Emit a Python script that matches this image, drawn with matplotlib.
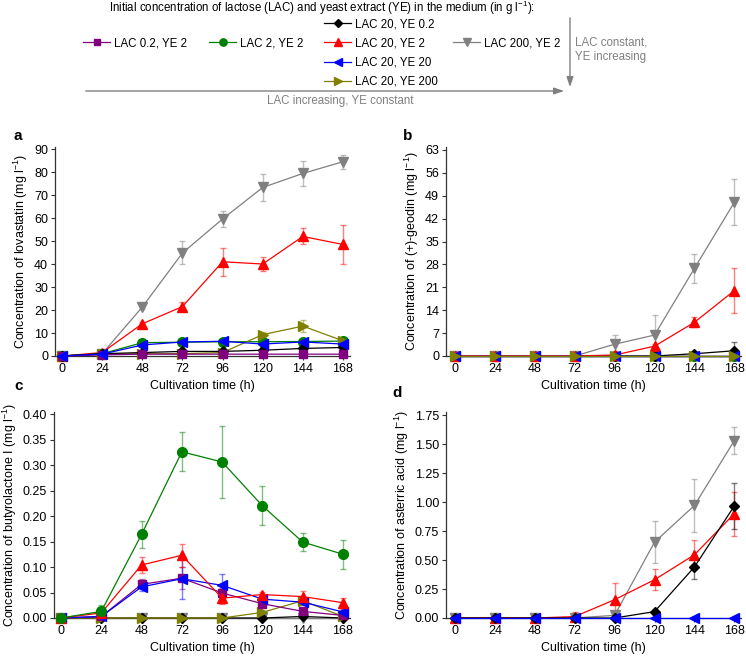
import matplotlib
matplotlib.use("Agg")
from matplotlib import pyplot as plt

plt.rcParams.update({
    "font.family": ["Liberation Sans", "DejaVu Sans"],
    "mathtext.fontset": "custom",
    "mathtext.rm": "Liberation Sans",
    "mathtext.it": "Liberation Sans:italic",
    "font.size": 9,
})

# %% data
hours = [0, 24, 48, 72, 96, 120, 144, 168]

series = ['LAC 0.2, YE 2', 'LAC 2, YE 2', 'LAC 20, YE 0.2', 'LAC 20, YE 2',
          'LAC 20, YE 20', 'LAC 20, YE 200', 'LAC 200, YE 2']
colors = ['#800080', '#008000', '#000000', '#ff0000', '#0000ff', '#808000', '#808080']
markers = ['s', 'o', 'D', '^', '<', '>', 'v']
msizes = [6, 7, 5.5, 7.5, 7.5, 7.5, 7.5]

# lovastatin (mg/l)
lova_mean = {
    'LAC 0.2, YE 2': [0, 0.5, 0.8, 0.8, 0.8, 0.8, 0.8, 0.8],
    'LAC 2, YE 2': [0, 1.0, 5.8, 6.0, 6.2, 6.2, 6.3, 6.5],
    'LAC 20, YE 0.2': [0, 1.0, 1.5, 2.0, 2.0, 2.5, 3.3, 3.7],
    'LAC 20, YE 2': [0, 1.5, 14.0, 21.5, 41.0, 40.0, 52.0, 48.5],
    'LAC 20, YE 20': [0, 0.8, 4.8, 6.1, 6.4, 5.2, 6.1, 5.2],
    'LAC 20, YE 200': [0, 0.8, 1.0, 1.0, 1.5, 9.3, 13.0, 6.6],
    'LAC 200, YE 2': [0, 1.0, 21.3, 44.8, 59.6, 73.3, 79.4, 84.5],
}
lova_err = {
    'LAC 0.2, YE 2': [0, 0.2, 0.2, 0.2, 0.2, 0.2, 0.2, 0.2],
    'LAC 2, YE 2': [0, 0.3, 0.5, 0.5, 0.5, 0.5, 0.6, 0.6],
    'LAC 20, YE 0.2': [0, 0.2, 0.3, 0.3, 0.3, 0.3, 0.4, 0.4],
    'LAC 20, YE 2': [0, 1.0, 1.0, 2.0, 6.0, 3.0, 3.5, 8.5],
    'LAC 20, YE 20': [0, 0.3, 0.6, 0.8, 1.2, 0.8, 0.8, 0.6],
    'LAC 20, YE 200': [0, 0.2, 0.2, 0.2, 0.3, 1.0, 2.5, 0.8],
    'LAC 200, YE 2': [0, 0.3, 1.0, 5.0, 3.5, 6.0, 5.5, 3.0],
}

# (+)-geodin (mg/l)
geodin_mean = {
    'LAC 0.2, YE 2': [0, 0, 0, 0, 0, 0, 0, 0],
    'LAC 2, YE 2': [0, 0, 0, 0, 0, 0, 0, 0],
    'LAC 20, YE 0.2': [0, 0, 0, 0, 0, 0, 0.7, 1.6],
    'LAC 20, YE 2': [0, 0, 0, 0, 0.3, 3.0, 10.3, 20.0],
    'LAC 20, YE 20': [0, 0, 0, 0, 0, 0, 0, 0],
    'LAC 20, YE 200': [0, 0, 0, 0, 0, 0, 0, 0],
    'LAC 200, YE 2': [0, 0, 0, 0, 3.6, 6.4, 26.8, 47.0],
}
geodin_err = {
    'LAC 0.2, YE 2': [0, 0, 0, 0, 0, 0, 0, 0],
    'LAC 2, YE 2': [0, 0, 0, 0, 0, 0, 0, 0],
    'LAC 20, YE 0.2': [0, 0, 0, 0, 0, 0, 0.3, 2.8],
    'LAC 20, YE 2': [0, 0, 0, 0, 0.2, 0.8, 1.5, 7.0],
    'LAC 20, YE 20': [0, 0, 0, 0, 0, 0, 0, 0],
    'LAC 20, YE 200': [0, 0, 0, 0, 0, 0, 0, 0],
    'LAC 200, YE 2': [0, 0, 0, 0, 2.7, 6.2, 4.5, 7.0],
}

# butyrolactone I (mg/l)
butyro_mean = {
    'LAC 0.2, YE 2': [0, 0.003, 0.066, 0.078, 0.049, 0.028, 0.013, 0.005],
    'LAC 2, YE 2': [0, 0.013, 0.164, 0.326, 0.306, 0.220, 0.149, 0.125],
    'LAC 20, YE 0.2': [0, 0, 0, 0, 0, 0, 0.003, 0],
    'LAC 20, YE 2': [0, 0.010, 0.104, 0.123, 0.039, 0.046, 0.042, 0.030],
    'LAC 20, YE 20': [0, 0.003, 0.061, 0.077, 0.064, 0.037, 0.031, 0.012],
    'LAC 20, YE 200': [0, 0, 0, 0, 0, 0.011, 0.034, 0.003],
    'LAC 200, YE 2': [0, 0, 0, 0, 0, 0, 0, 0],
}
butyro_err = {
    'LAC 0.2, YE 2': [0, 0.002, 0.010, 0.022, 0.010, 0.004, 0.003, 0.002],
    'LAC 2, YE 2': [0, 0.013, 0.026, 0.038, 0.070, 0.038, 0.018, 0.028],
    'LAC 20, YE 0.2': [0, 0, 0, 0, 0, 0, 0.001, 0],
    'LAC 20, YE 2': [0, 0.004, 0.016, 0.023, 0.012, 0.005, 0.010, 0.010],
    'LAC 20, YE 20': [0, 0.002, 0.008, 0.039, 0.022, 0.006, 0.005, 0.005],
    'LAC 20, YE 200': [0, 0, 0, 0, 0, 0.002, 0.006, 0.002],
    'LAC 200, YE 2': [0, 0, 0, 0, 0, 0, 0, 0],
}

# asterric acid (mg/l)
asterric_mean = {
    'LAC 20, YE 0.2': [0, 0, 0, 0, 0, 0.055, 0.440, 0.967],
    'LAC 20, YE 2': [0, 0, 0, 0.012, 0.158, 0.330, 0.545, 0.900],
    'LAC 20, YE 20': [0, 0, 0, 0, 0, 0, 0, 0],
    'LAC 200, YE 2': [0, 0, 0, 0, 0.023, 0.654, 0.970, 1.530],
}
asterric_err = {
    'LAC 20, YE 0.2': [0, 0, 0, 0, 0, 0.010, 0.100, 0.200],
    'LAC 20, YE 2': [0, 0, 0, 0.040, 0.145, 0.090, 0.125, 0.190],
    'LAC 20, YE 20': [0, 0, 0, 0, 0, 0, 0, 0],
    'LAC 200, YE 2': [0, 0, 0, 0, 0.020, 0.180, 0.230, 0.120],
}

# %% plot
W, H = 746, 657
fig = plt.figure(figsize=(W / 100, H / 100), dpi=100)
spine_col = '#333333'


def px_axes(left, top, right, bottom):
    return fig.add_axes([left / W, 1 - bottom / H, (right - left) / W, (bottom - top) / H])


def draw_panel(ax, means, errs, order, ylim, yticks, ylabel, xlim):
    handles = {}
    for name in order:
        if name not in means:
            continue
        i = series.index(name)
        ax.errorbar(hours, means[name], yerr=errs[name], fmt='none', ecolor=colors[i],
                    alpha=0.5, elinewidth=1, capsize=2, capthick=1, clip_on=False, zorder=2)
        line, = ax.plot(hours, means[name], color=colors[i], marker=markers[i],
                        markersize=msizes[i], linewidth=0.9, clip_on=False, zorder=3,
                        label=name)
        handles[name] = line
    ax.set_xlim(*xlim)
    ax.set_ylim(*ylim)
    ax.set_xticks(hours)
    ax.set_yticks(yticks)
    ax.set_xlabel('Cultivation time (h)', labelpad=4)
    ax.set_ylabel(ylabel, labelpad=3)
    for side in ['top', 'right']:
        ax.spines[side].set_visible(False)
    for side in ['left', 'bottom']:
        ax.spines[side].set_color(spine_col)
        ax.spines[side].set_linewidth(0.9)
    ax.tick_params(direction='out', length=3, width=0.8, color=spine_col, pad=2, labelsize=9)
    return handles


order_a = ['LAC 200, YE 2', 'LAC 20, YE 2', 'LAC 2, YE 2', 'LAC 20, YE 200',
           'LAC 20, YE 0.2', 'LAC 0.2, YE 2', 'LAC 20, YE 20']
order_b = ['LAC 0.2, YE 2', 'LAC 2, YE 2', 'LAC 20, YE 0.2', 'LAC 200, YE 2',
           'LAC 20, YE 2', 'LAC 20, YE 20', 'LAC 20, YE 200']
order_c = ['LAC 200, YE 2', 'LAC 20, YE 0.2', 'LAC 20, YE 200', 'LAC 0.2, YE 2',
           'LAC 20, YE 20', 'LAC 20, YE 2', 'LAC 2, YE 2']
order_d = ['LAC 200, YE 2', 'LAC 20, YE 2', 'LAC 20, YE 0.2', 'LAC 20, YE 20']

ax_a = px_axes(55, 147, 350, 356)
h = draw_panel(ax_a, lova_mean, lova_err, order_a, (0, 90.9), range(0, 91, 10),
               'Concentration of lovastatin (mg l$^{-1}$)', (-4.2, 172.2))
ax_b = px_axes(446, 147, 741, 356)
draw_panel(ax_b, geodin_mean, geodin_err, order_b, (0, 63.9), range(0, 64, 7),
           'Concentration of (+)-geodin (mg l$^{-1}$)', (-5.4, 172))
ax_c = px_axes(54, 412, 350, 618)
draw_panel(ax_c, butyro_mean, butyro_err, order_c, (0, 0.404),
           [0, 0.05, 0.10, 0.15, 0.20, 0.25, 0.30, 0.35, 0.40],
           'Concentration of butyrolactone I (mg l$^{-1}$)', (-4.2, 172.2))
ax_c.yaxis.set_major_formatter(matplotlib.ticker.FormatStrFormatter('%.2f'))
ax_d = px_axes(446, 412, 741, 618)
draw_panel(ax_d, asterric_mean, asterric_err, order_d, (0, 1.776),
           [0, 0.25, 0.5, 0.75, 1.0, 1.25, 1.5, 1.75],
           'Concentration of asterric acid (mg l$^{-1}$)', (-5.4, 172))
ax_d.yaxis.set_major_formatter(matplotlib.ticker.FormatStrFormatter('%.2f'))

for label, (x, y) in zip('abcd', [(14, 136), (403, 136), (14, 386), (392, 393)]):
    fig.text(x / W, 1 - y / H, label, fontsize=11, fontweight='bold', va='center')

# %% legend block
fig.text(109 / W, 1 - 8 / H, 'Initial concentration of lactose (LAC) and yeast extract (YE) '
         'in the medium (in g l$^{-1}$):', fontsize=8.3, va='center')

groups = [
    (['LAC 0.2, YE 2'], 83, 43),
    (['LAC 2, YE 2'], 209, 43),
    (['LAC 20, YE 0.2', 'LAC 20, YE 2', 'LAC 20, YE 20', 'LAC 20, YE 200'], 324, 53),
    (['LAC 200, YE 2'], 453, 43),
]
for names, x, y in groups:
    fig.legend([h[n] for n in names], names, loc='center left',
               bbox_to_anchor=(x / W, 1 - y / H), frameon=False, fontsize=8.3,
               borderpad=0, borderaxespad=0, handlelength=2.35, handletextpad=0.3,
               labelspacing=0.62, markerscale=0.75)

arrow_col = '#808080'
fig.add_artist(matplotlib.patches.FancyArrowPatch(
    (83 / W, 1 - 91 / H), (567 / W, 1 - 91 / H), transform=fig.transFigure,
    arrowstyle='-|>,head_length=6,head_width=2', color=arrow_col, linewidth=1,
    mutation_scale=1))
fig.add_artist(matplotlib.patches.FancyArrowPatch(
    (570 / W, 1 - 15 / H), (570 / W, 1 - 90 / H), transform=fig.transFigure,
    arrowstyle='-|>,head_length=6,head_width=2', color=arrow_col, linewidth=1,
    mutation_scale=1))
fig.text(340 / W, 1 - 101 / H, 'LAC increasing, YE constant', color=arrow_col,
         fontsize=8.3, ha='center', va='center')
fig.text(575 / W, 1 - 50 / H, 'LAC constant,\nYE increasing', color=arrow_col,
         fontsize=8.3, ha='left', va='center', linespacing=1.25)

fig.savefig('out.png', dpi=100)
